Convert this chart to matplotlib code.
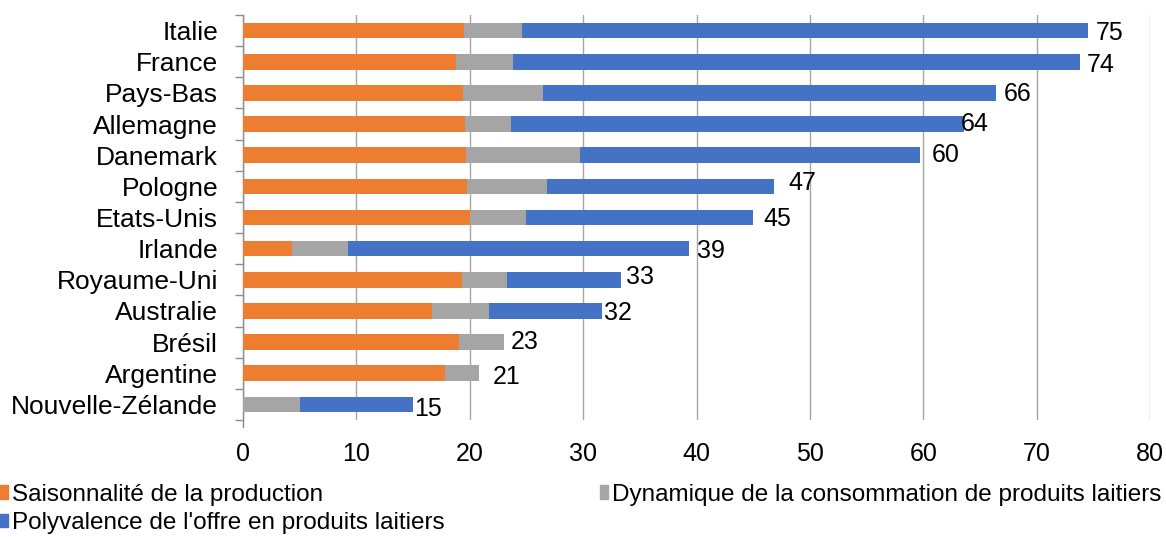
import matplotlib
matplotlib.use("Agg")
from matplotlib import pyplot as plt
from matplotlib.patches import Patch
import numpy as np

plt.rcParams['font.family'] = ['Liberation Sans', 'DejaVu Sans']

countries = ['Italie', 'France', 'Pays-Bas', 'Allemagne', 'Danemark', 'Pologne',
             'Etats-Unis', 'Irlande', 'Royaume-Uni', 'Australie', 'Brésil',
             'Argentine', 'Nouvelle-Zélande']
saison = [19.5, 18.8, 19.4, 19.6, 19.7, 19.8, 20.0, 4.3, 19.3, 16.7, 19.05, 17.8, 0.0]
dynamique = [5.1, 5.0, 7.05, 4.0, 10.0, 7.0, 5.0, 5.0, 4.0, 5.0, 3.95, 3.0, 5.0]
polyvalence = [49.9, 50.0, 40.0, 40.0, 30.0, 20.0, 20.0, 30.0, 10.0, 10.0, 0.0, 0.0, 10.0]
totals = ['75', '74', '66', '64', '60', '47', '45', '39', '33', '32', '23', '21', '15']
series_names = ['Saisonnalité de la production',
                'Dynamique de la consommation de produits laitiers',
                "Polyvalence de l'offre en produits laitiers"]

c_orange = '#ED7D31'
c_gray = '#A5A5A5'
c_blue = '#4472C4'

# nudges of the value labels (pixels: right, down), moved by hand in the original
lab_dx = [8, 7, 7, -3, 12, 15, 10, 8, 5, 2, 7, 14, 1]
lab_dy = [2, 3, 1, 0, 0, -3, 2, 2, -3, 2, 0, 4, 5]

fig = plt.figure(figsize=(11.66, 5.38), dpi=100)
ax = fig.add_axes([243/1166, 1-420/538, 907/1166, (420-15)/538])

y = np.arange(len(countries))
s = np.array(saison)
d = np.array(dynamique)
p = np.array(polyvalence)
h = 0.5
ax.barh(y, s, height=h, color=c_orange, zorder=3)
ax.barh(y, d, left=s, height=h, color=c_gray, zorder=3)
ax.barh(y, p, left=s+d, height=h, color=c_blue, zorder=3)

end = s + d + p
for i in range(len(countries)):
    ax.annotate(totals[i], (end[i], y[i]), xytext=(lab_dx[i]*0.72, -lab_dy[i]*0.72),
                textcoords='offset points', ha='left', va='center', fontsize=18, zorder=4)

ax.set_xlim(0, 80)
ax.set_ylim(len(countries)-0.5, -0.5)
ax.set_xticks(np.arange(0, 81, 10))
ax.set_yticks(y)
ax.set_yticklabels(countries)
ax.set_yticks(np.arange(-0.5, len(countries), 1), minor=True)
ax.tick_params(axis='y', which='major', length=0, pad=18, labelsize=19)
ax.tick_params(axis='y', which='minor', length=6, color='#8C8C8C', width=1)
ax.tick_params(axis='x', length=0, pad=16, labelsize=18)
ax.xaxis.grid(True, color='#A6A6A6', linewidth=1, zorder=0)
for sp in ['top', 'right', 'bottom']:
    ax.spines[sp].set_visible(False)
ax.spines['left'].set_color('#8C8C8C')
ax.spines['left'].set_linewidth(1)
ax.spines['left'].set_bounds(-0.5, len(countries)-0.5+0.22)

handles = [Patch(color=c_orange), Patch(color=c_blue), Patch(color=c_gray)]
labels = [series_names[0], series_names[2], series_names[1]]
fig.legend(handles, labels, loc='upper left', bbox_to_anchor=(0.0, 1-484/538), ncol=2,
           frameon=False, fontsize=17.5, handlelength=0.33, handleheight=0.5,
           handletextpad=0.15, columnspacing=6.4, labelspacing=0.25,
           borderpad=0, borderaxespad=0)

plt.savefig('out.png', dpi=100)
plt.close()
